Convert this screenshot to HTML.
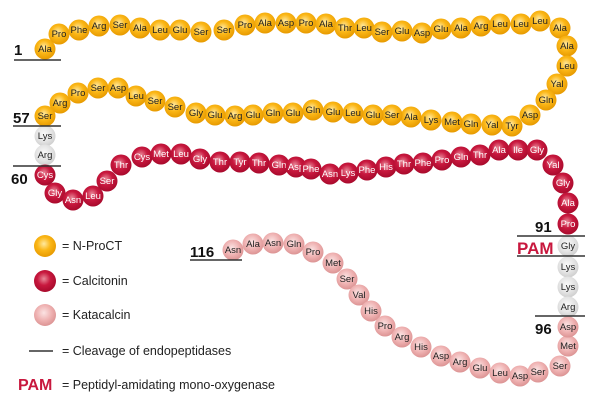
<!DOCTYPE html>
<html><head><meta charset="utf-8"><style>
html,body{margin:0;padding:0;background:#fff;}
svg{display:block;}
text{font-family:"Liberation Sans",sans-serif;}
.y text,.p text,.g text{fill:#222;font-size:9.5px;text-anchor:middle;}
.r text{fill:#fff;font-size:9.5px;text-anchor:middle;}
.n{font-size:15px;font-weight:bold;fill:#111;}
.l{font-size:12.5px;fill:#222;}
</style></head><body>
<svg width="601" height="404" viewBox="0 0 601 404" xmlns="http://www.w3.org/2000/svg">
<defs>
<radialGradient id="gy" cx="0.45" cy="0.4" r="0.6"><stop offset="0" stop-color="#ffe9a0"/><stop offset="0.5" stop-color="#fbb717"/><stop offset="1" stop-color="#e79a00"/></radialGradient>
<radialGradient id="gr" cx="0.45" cy="0.4" r="0.6"><stop offset="0" stop-color="#e98a9a"/><stop offset="0.5" stop-color="#c8183e"/><stop offset="1" stop-color="#a80a2c"/></radialGradient>
<radialGradient id="gp" cx="0.45" cy="0.4" r="0.6"><stop offset="0" stop-color="#fbe3e3"/><stop offset="0.6" stop-color="#eeb0b0"/><stop offset="1" stop-color="#dc9494"/></radialGradient>
<radialGradient id="gg" cx="0.45" cy="0.4" r="0.6"><stop offset="0" stop-color="#fafafa"/><stop offset="0.6" stop-color="#e4e4e4"/><stop offset="1" stop-color="#cfcfcf"/></radialGradient>
</defs>
<g class="y" fill="url(#gy)">
<circle cx="45" cy="49" r="10.5"/><text x="45" y="52">Ala</text>
<circle cx="59" cy="34" r="10.5"/><text x="59" y="37">Pro</text>
<circle cx="79" cy="30" r="10.5"/><text x="79" y="33">Phe</text>
<circle cx="99" cy="26" r="10.5"/><text x="99" y="29">Arg</text>
<circle cx="120" cy="25" r="10.5"/><text x="120" y="28">Ser</text>
<circle cx="140" cy="28" r="10.5"/><text x="140" y="31">Ala</text>
<circle cx="160" cy="30" r="10.5"/><text x="160" y="33">Leu</text>
<circle cx="180" cy="30" r="10.5"/><text x="180" y="33">Glu</text>
<circle cx="201" cy="32" r="10.5"/><text x="201" y="35">Ser</text>
<circle cx="224" cy="30" r="10.5"/><text x="224" y="33">Ser</text>
<circle cx="245" cy="25" r="10.5"/><text x="245" y="28">Pro</text>
<circle cx="265" cy="23" r="10.5"/><text x="265" y="26">Ala</text>
<circle cx="286" cy="23" r="10.5"/><text x="286" y="26">Asp</text>
<circle cx="306" cy="23" r="10.5"/><text x="306" y="26">Pro</text>
<circle cx="326" cy="24" r="10.5"/><text x="326" y="27">Ala</text>
<circle cx="345" cy="28" r="10.5"/><text x="345" y="31">Thr</text>
<circle cx="364" cy="28" r="10.5"/><text x="364" y="31">Leu</text>
<circle cx="382" cy="32" r="10.5"/><text x="382" y="35">Ser</text>
<circle cx="402" cy="31" r="10.5"/><text x="402" y="34">Glu</text>
<circle cx="422" cy="33" r="10.5"/><text x="422" y="36">Asp</text>
<circle cx="441" cy="29" r="10.5"/><text x="441" y="32">Glu</text>
<circle cx="461" cy="28" r="10.5"/><text x="461" y="31">Ala</text>
<circle cx="481" cy="26" r="10.5"/><text x="481" y="29">Arg</text>
<circle cx="500" cy="24" r="10.5"/><text x="500" y="27">Leu</text>
<circle cx="521" cy="24" r="10.5"/><text x="521" y="27">Leu</text>
<circle cx="540" cy="21" r="10.5"/><text x="540" y="24">Leu</text>
<circle cx="560" cy="28" r="10.5"/><text x="560" y="31">Ala</text>
<circle cx="567" cy="46" r="10.5"/><text x="567" y="49">Ala</text>
<circle cx="567" cy="66" r="10.5"/><text x="567" y="69">Leu</text>
<circle cx="557" cy="84" r="10.5"/><text x="557" y="87">Yal</text>
<circle cx="546" cy="100" r="10.5"/><text x="546" y="103">Gln</text>
<circle cx="530" cy="115" r="10.5"/><text x="530" y="118">Asp</text>
<circle cx="512" cy="126" r="10.5"/><text x="512" y="129">Tyr</text>
<circle cx="492" cy="125" r="10.5"/><text x="492" y="128">Yal</text>
<circle cx="471" cy="124" r="10.5"/><text x="471" y="127">Gln</text>
<circle cx="452" cy="122" r="10.5"/><text x="452" y="125">Met</text>
<circle cx="431" cy="120" r="10.5"/><text x="431" y="123">Lys</text>
<circle cx="411" cy="117" r="10.5"/><text x="411" y="120">Ala</text>
<circle cx="392" cy="115" r="10.5"/><text x="392" y="118">Ser</text>
<circle cx="373" cy="115" r="10.5"/><text x="373" y="118">Glu</text>
<circle cx="353" cy="113" r="10.5"/><text x="353" y="116">Leu</text>
<circle cx="333" cy="112" r="10.5"/><text x="333" y="115">Glu</text>
<circle cx="313" cy="110" r="10.5"/><text x="313" y="113">Gln</text>
<circle cx="293" cy="113" r="10.5"/><text x="293" y="116">Glu</text>
<circle cx="273" cy="113" r="10.5"/><text x="273" y="116">Gln</text>
<circle cx="253" cy="115" r="10.5"/><text x="253" y="118">Glu</text>
<circle cx="235" cy="116" r="10.5"/><text x="235" y="119">Arg</text>
<circle cx="215" cy="115" r="10.5"/><text x="215" y="118">Glu</text>
<circle cx="196" cy="113" r="10.5"/><text x="196" y="116">Gly</text>
<circle cx="175" cy="107" r="10.5"/><text x="175" y="110">Ser</text>
<circle cx="155" cy="101" r="10.5"/><text x="155" y="104">Ser</text>
<circle cx="136" cy="96" r="10.5"/><text x="136" y="99">Leu</text>
<circle cx="118" cy="88" r="10.5"/><text x="118" y="91">Asp</text>
<circle cx="98" cy="88" r="10.5"/><text x="98" y="91">Ser</text>
<circle cx="78" cy="93" r="10.5"/><text x="78" y="96">Pro</text>
<circle cx="60" cy="103" r="10.5"/><text x="60" y="106">Arg</text>
<circle cx="45" cy="116" r="10.5"/><text x="45" y="119">Ser</text>
<circle cx="45" cy="246" r="11"/>
</g>
<g class="g" fill="url(#gg)">
<circle cx="45" cy="136" r="10.5"/><text x="45" y="139">Lys</text>
<circle cx="45" cy="155" r="10.5"/><text x="45" y="158">Arg</text>
<circle cx="568" cy="246" r="10.5"/><text x="568" y="249">Gly</text>
<circle cx="568" cy="267" r="10.5"/><text x="568" y="270">Lys</text>
<circle cx="568" cy="287" r="10.5"/><text x="568" y="290">Lys</text>
<circle cx="568" cy="307" r="10.5"/><text x="568" y="310">Arg</text>
</g>
<g class="r" fill="url(#gr)">
<circle cx="45" cy="175" r="10.5"/><text x="45" y="178">Cys</text>
<circle cx="55" cy="193" r="10.5"/><text x="55" y="196">Gly</text>
<circle cx="73" cy="200" r="10.5"/><text x="73" y="203">Asn</text>
<circle cx="93" cy="196" r="10.5"/><text x="93" y="199">Leu</text>
<circle cx="107" cy="181" r="10.5"/><text x="107" y="184">Ser</text>
<circle cx="121" cy="165" r="10.5"/><text x="121" y="168">Thr</text>
<circle cx="142" cy="157" r="10.5"/><text x="142" y="160">Cys</text>
<circle cx="161" cy="154" r="10.5"/><text x="161" y="157">Met</text>
<circle cx="181" cy="154" r="10.5"/><text x="181" y="157">Leu</text>
<circle cx="200" cy="159" r="10.5"/><text x="200" y="162">Gly</text>
<circle cx="220" cy="162" r="10.5"/><text x="220" y="165">Thr</text>
<circle cx="240" cy="162" r="10.5"/><text x="240" y="165">Tyr</text>
<circle cx="259" cy="163" r="10.5"/><text x="259" y="166">Thr</text>
<circle cx="279" cy="165" r="10.5"/><text x="279" y="168">Gln</text>
<circle cx="296" cy="167" r="10.5"/><text x="296" y="170">Asp</text>
<circle cx="311" cy="169" r="10.5"/><text x="311" y="172">Phe</text>
<circle cx="330" cy="174" r="10.5"/><text x="330" y="177">Asn</text>
<circle cx="348" cy="173" r="10.5"/><text x="348" y="176">Lys</text>
<circle cx="367" cy="170" r="10.5"/><text x="367" y="173">Phe</text>
<circle cx="386" cy="167" r="10.5"/><text x="386" y="170">His</text>
<circle cx="404" cy="164" r="10.5"/><text x="404" y="167">Thr</text>
<circle cx="423" cy="163" r="10.5"/><text x="423" y="166">Phe</text>
<circle cx="442" cy="160" r="10.5"/><text x="442" y="163">Pro</text>
<circle cx="461" cy="157" r="10.5"/><text x="461" y="160">Gln</text>
<circle cx="480" cy="155" r="10.5"/><text x="480" y="158">Thr</text>
<circle cx="499" cy="150" r="10.5"/><text x="499" y="153">Ala</text>
<circle cx="518" cy="150" r="10.5"/><text x="518" y="153">Ile</text>
<circle cx="537" cy="150" r="10.5"/><text x="537" y="153">Gly</text>
<circle cx="553" cy="165" r="10.5"/><text x="553" y="168">Yal</text>
<circle cx="563" cy="183" r="10.5"/><text x="563" y="186">Gly</text>
<circle cx="568" cy="203" r="10.5"/><text x="568" y="206">Ala</text>
<circle cx="568" cy="224" r="10.5"/><text x="568" y="227">Pro</text>
<circle cx="45" cy="281" r="11"/>
</g>
<g class="p" fill="url(#gp)">
<circle cx="233" cy="250" r="10.5"/><text x="233" y="253">Asn</text>
<circle cx="253" cy="244" r="10.5"/><text x="253" y="247">Ala</text>
<circle cx="273" cy="243" r="10.5"/><text x="273" y="246">Asn</text>
<circle cx="294" cy="244" r="10.5"/><text x="294" y="247">Gln</text>
<circle cx="313" cy="252" r="10.5"/><text x="313" y="255">Pro</text>
<circle cx="333" cy="263" r="10.5"/><text x="333" y="266">Met</text>
<circle cx="347" cy="279" r="10.5"/><text x="347" y="282">Ser</text>
<circle cx="359" cy="295" r="10.5"/><text x="359" y="298">Val</text>
<circle cx="371" cy="311" r="10.5"/><text x="371" y="314">His</text>
<circle cx="385" cy="326" r="10.5"/><text x="385" y="329">Pro</text>
<circle cx="402" cy="337" r="10.5"/><text x="402" y="340">Arg</text>
<circle cx="421" cy="347" r="10.5"/><text x="421" y="350">His</text>
<circle cx="441" cy="356" r="10.5"/><text x="441" y="359">Asp</text>
<circle cx="460" cy="362" r="10.5"/><text x="460" y="365">Arg</text>
<circle cx="480" cy="368" r="10.5"/><text x="480" y="371">Glu</text>
<circle cx="500" cy="373" r="10.5"/><text x="500" y="376">Leu</text>
<circle cx="520" cy="376" r="10.5"/><text x="520" y="379">Asp</text>
<circle cx="538" cy="372" r="10.5"/><text x="538" y="375">Ser</text>
<circle cx="560" cy="366" r="10.5"/><text x="560" y="369">Ser</text>
<circle cx="568" cy="346" r="10.5"/><text x="568" y="349">Met</text>
<circle cx="568" cy="327" r="10.5"/><text x="568" y="330">Asp</text>
<circle cx="45" cy="315" r="11"/>
</g>
<g stroke="#333" stroke-width="1.5">
<line x1="14" y1="60" x2="61" y2="60"/>
<line x1="13" y1="126" x2="61" y2="126"/>
<line x1="13" y1="166" x2="61" y2="166"/>
<line x1="517" y1="236" x2="585" y2="236"/>
<line x1="517" y1="256" x2="585" y2="256"/>
<line x1="535" y1="316" x2="585" y2="316"/>
<line x1="190" y1="260" x2="242" y2="260"/>
<line x1="29" y1="351" x2="53" y2="351"/>
</g>
<text class="n" x="14" y="55">1</text>
<text class="n" x="13" y="123">57</text>
<text class="n" x="11" y="184">60</text>
<text class="n" x="535" y="232">91</text>
<text x="517" y="254" style="font-size:17px;font-weight:bold;fill:#c8183e">PAM</text>
<text class="n" x="535" y="334">96</text>
<text class="n" x="190" y="257">116</text>
<text class="l" x="62" y="250">= N-ProCT</text>
<text class="l" x="62" y="285">= Calcitonin</text>
<text class="l" x="62" y="319">= Katacalcin</text>
<text class="l" x="62" y="355">= Cleavage of endopeptidases</text>
<text x="18" y="390" style="font-size:16px;font-weight:bold;fill:#c8183e">PAM</text>
<text class="l" x="62" y="389">= Peptidyl-amidating mono-oxygenase</text>
</svg>
</body></html>
